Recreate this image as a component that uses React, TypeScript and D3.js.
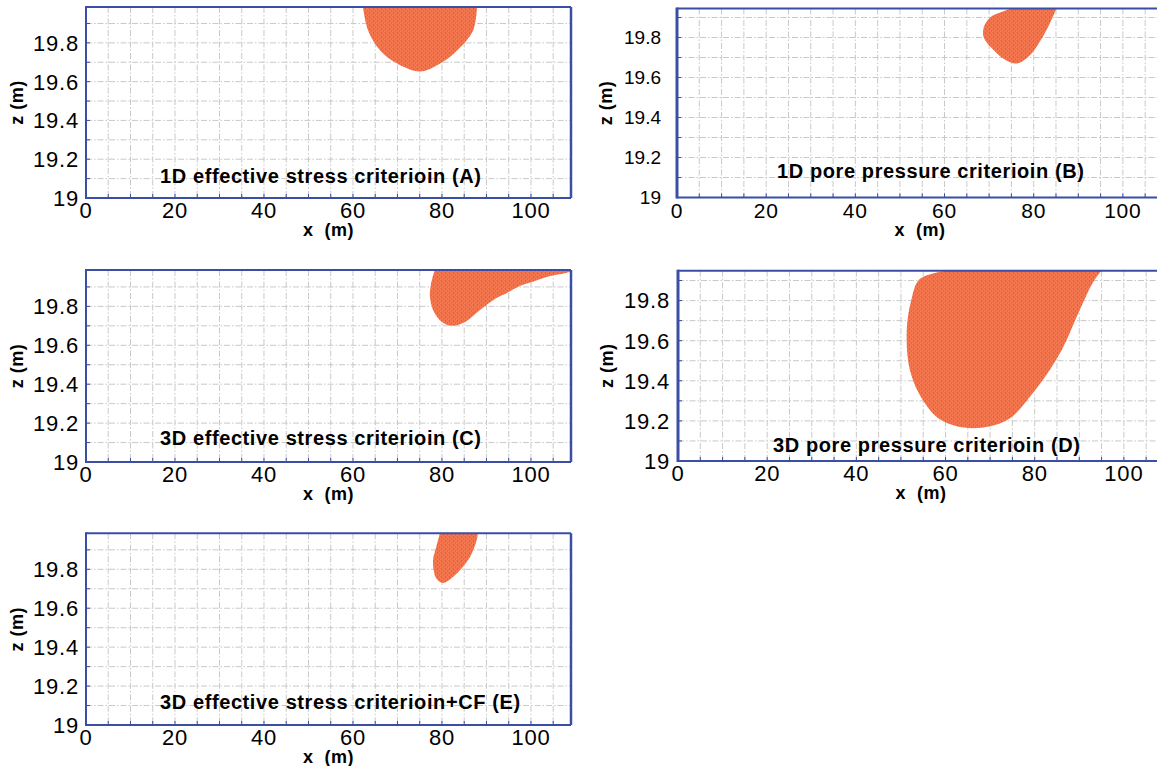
import React from 'react';
import * as d3 from 'd3';

// tick values and labels
const xTicks = [0, 20, 40, 60, 80, 100];
const zTicks = [19, 19.2, 19.4, 19.6, 19.8];
const xGrid = [5, 10, 15, 20, 25, 30, 35, 40, 45, 50, 55, 60, 65, 70, 75, 80, 85, 90, 95, 100, 105];
const zGrid = [19.1, 19.2, 19.3, 19.4, 19.5, 19.6, 19.7, 19.8, 19.9];

const titles = [
  '1D effective stress criterioin (A)',
  '1D pore pressure criterioin (B)',
  '3D effective stress criterioin (C)',
  '3D pore pressure criterioin (D)',
  '3D effective stress criterioin+CF (E)',
];

// failure zone outlines, [x (m), z (m)]
const zoneA: [number, number][] = [
  [62.2, 19.99], [63.4, 19.864], [66.1, 19.761], [69.9, 19.694], [75.1, 19.653],
  [79.6, 19.694], [83.4, 19.761], [87.0, 19.864], [87.9, 19.99],
];
const zoneB: [number, number][] = [
  [85.2, 19.95], [83.4, 19.86], [81.4, 19.78], [79.1, 19.71], [76.2, 19.67],
  [73.5, 19.69], [70.9, 19.74], [68.8, 19.8], [68.8, 19.85], [70.2, 19.9],
  [73.1, 19.93], [75.8, 19.95],
];
const zoneC: [number, number][] = [
  [78.4, 19.99], [77.5, 19.91], [77.3, 19.848], [78.2, 19.771], [80.0, 19.72],
  [82.2, 19.7], [85.2, 19.72], [88.5, 19.78], [91.9, 19.838], [94.6, 19.869],
  [97.5, 19.905], [100.4, 19.927], [104.3, 19.956], [107.6, 19.97], [109, 19.98],
  [109, 19.99],
];
const zoneD: [number, number][] = [
  [95.0, 19.95], [93.0, 19.888], [90.1, 19.753], [85.7, 19.539], [79.6, 19.339],
  [73.8, 19.204], [66.0, 19.163], [59.0, 19.204], [54.9, 19.304], [52.0, 19.454],
  [51.3, 19.653], [52.3, 19.8], [54.0, 19.903], [57.6, 19.938], [61.0, 19.95],
];
const zoneE: [number, number][] = [
  [88.1, 19.99], [87.8, 19.949], [86.3, 19.863], [83.4, 19.78], [80.2, 19.73],
  [78.7, 19.754], [78.0, 19.846], [78.7, 19.913], [79.6, 19.99],
];

const AXIS = '#3a4ea6';
const GRID = '#c9c9c9';
const FONT = '"Liberation Sans", Arial, Helvetica, sans-serif';

type PanelProps = {
  id: string;
  title: string;
  zone: [number, number][];
  left: number;
  top: number;
  right: number;
  bottom: number;
  zTop: number;
  titleX: number;
  titleY: number;
  labelGap: number;
  tickSize: number;
  zTickSize: number;
  zTickSpacing: number;
  leftWidth: number;
  zLabelOffset: number;
};

const Panel = ({ id, title, zone, left, top, right, bottom, zTop, titleX, titleY, labelGap,
  tickSize, zTickSize, zTickSpacing, leftWidth, zLabelOffset }: PanelProps) => {
  const xScale = d3.scaleLinear().domain([0, 109]).range([left, right]);
  const zScale = d3.scaleLinear().domain([19, zTop]).range([bottom, top]);

  const line = d3.line<[number, number]>()
    .x(d => xScale(d[0]))
    .y(d => zScale(Math.min(d[1], zTop + 0.01)))
    .curve(d3.curveCatmullRom.alpha(0.5));

  const clipId = `clip-${id}`;
  const midY = (top + bottom) / 2;

  return (
    <g>
      <defs>
        <clipPath id={clipId}>
          <rect x={left} y={top} width={right - left} height={bottom - top} />
        </clipPath>
      </defs>

      {/* grid */}
      <g stroke={GRID} strokeWidth={1} strokeDasharray="6,2,1.5,2">
        {xGrid.map(v => (
          <line key={`gx${v}`} x1={xScale(v)} x2={xScale(v)} y1={top} y2={bottom} />
        ))}
        {zGrid.map(v => (
          <line key={`gz${v}`} x1={left} x2={right} y1={zScale(v)} y2={zScale(v)} />
        ))}
      </g>

      {/* failure zone */}
      <path d={line(zone) + 'Z'} fill="url(#zoneFill)" clipPath={`url(#${clipId})`} />

      {/* minor ticks */}
      <g stroke={AXIS} strokeWidth={1}>
        {xGrid.map(v => (
          <line key={`tx${v}`} x1={xScale(v)} x2={xScale(v)} y1={bottom} y2={bottom - 4} />
        ))}
        {zGrid.map(v => (
          <line key={`tz${v}`} x1={left} x2={left + 4} y1={zScale(v)} y2={zScale(v)} />
        ))}
      </g>

      {/* frame */}
      <line x1={left} x2={right} y1={top} y2={top} stroke={AXIS} strokeWidth={2} />
      <line x1={right} x2={right} y1={top} y2={bottom} stroke={AXIS} strokeWidth={2.5} />
      <line x1={left} x2={right} y1={bottom} y2={bottom} stroke={AXIS} strokeWidth={2} />
      <line x1={left} x2={left} y1={top - 1} y2={bottom + 1} stroke={AXIS} strokeWidth={leftWidth} />

      {/* tick labels */}
      <g fontFamily={FONT} fontSize={tickSize} fill="#000" letterSpacing={0.8}>
        {xTicks.map(v => (
          <text key={`lx${v}`} x={xScale(v)} y={bottom + 20} textAnchor="middle">{v}</text>
        ))}
      </g>
      <g fontFamily={FONT} fontSize={zTickSize} fill="#000" letterSpacing={zTickSpacing}>
        {zTicks.map(v => (
          <text key={`lz${v}`} x={left - labelGap} y={zScale(v)} dy="0.36em" textAnchor="end">{v}</text>
        ))}
      </g>

      {/* axis titles */}
      <text x={(left + right) / 2} y={bottom + 38} textAnchor="middle" fontFamily={FONT}
        fontSize={18} fontWeight="bold" letterSpacing={0.5} xmlSpace="preserve">{'x  (m)'}</text>
      <text transform={`translate(${left - zLabelOffset},${midY}) rotate(-90)`} textAnchor="middle"
        fontFamily={FONT} fontSize={18} fontWeight="bold" letterSpacing={0.5} xmlSpace="preserve">{'z (m)'}</text>

      {/* panel title */}
      <text x={titleX} y={titleY} fontFamily={FONT} fontSize={20} fontWeight="bold"
        letterSpacing={0.6}>{title}</text>
    </g>
  );
};

const panels = [
  { id: 'A', zone: zoneA, left: 86, top: 7, right: 571, bottom: 198, zTop: 19.985, titleX: 160, titleY: 183, labelGap: 7, tickSize: 22, zTickSize: 22, zTickSpacing: 0.8, leftWidth: 2, zLabelOffset: 63 },
  { id: 'B', zone: zoneB, left: 677, top: 8.5, right: 1163, bottom: 197.5, zTop: 19.945, titleX: 777, titleY: 178, labelGap: 16, tickSize: 21, zTickSize: 19, zTickSpacing: 0, leftWidth: 3, zLabelOffset: 65 },
  { id: 'C', zone: zoneC, left: 86, top: 270, right: 571, bottom: 462, zTop: 19.987, titleX: 160, titleY: 445, labelGap: 7, tickSize: 22, zTickSize: 22, zTickSpacing: 0.8, leftWidth: 2, zLabelOffset: 63 },
  { id: 'D', zone: zoneD, left: 678, top: 270.7, right: 1164, bottom: 461, zTop: 19.949, titleX: 773, titleY: 452, labelGap: 8, tickSize: 22, zTickSize: 22, zTickSpacing: 0.8, leftWidth: 3, zLabelOffset: 65 },
  { id: 'E', zone: zoneE, left: 86, top: 533.3, right: 571, bottom: 725, zTop: 19.985, titleX: 160, titleY: 709, labelGap: 7, tickSize: 22, zTickSize: 22, zTickSpacing: 0.8, leftWidth: 2, zLabelOffset: 63 },
];

export default function App() {
  return (
    <svg width={1157} height={766}
      style={{ position: 'absolute', left: 0, top: 0, background: '#fff', overflow: 'hidden' }}>
      <defs>
        <pattern id="zoneFill" width={4} height={4} patternUnits="userSpaceOnUse">
          <rect width={4} height={4} fill="#f4764f" />
          <rect x={1} y={0} width={1} height={2} fill="#ee5a2c" />
          <rect x={3} y={2} width={1} height={2} fill="#f0643a" />
        </pattern>
      </defs>
      {panels.map((p, i) => (
        <Panel key={p.id} {...p} title={titles[i]} />
      ))}
    </svg>
  );
}
